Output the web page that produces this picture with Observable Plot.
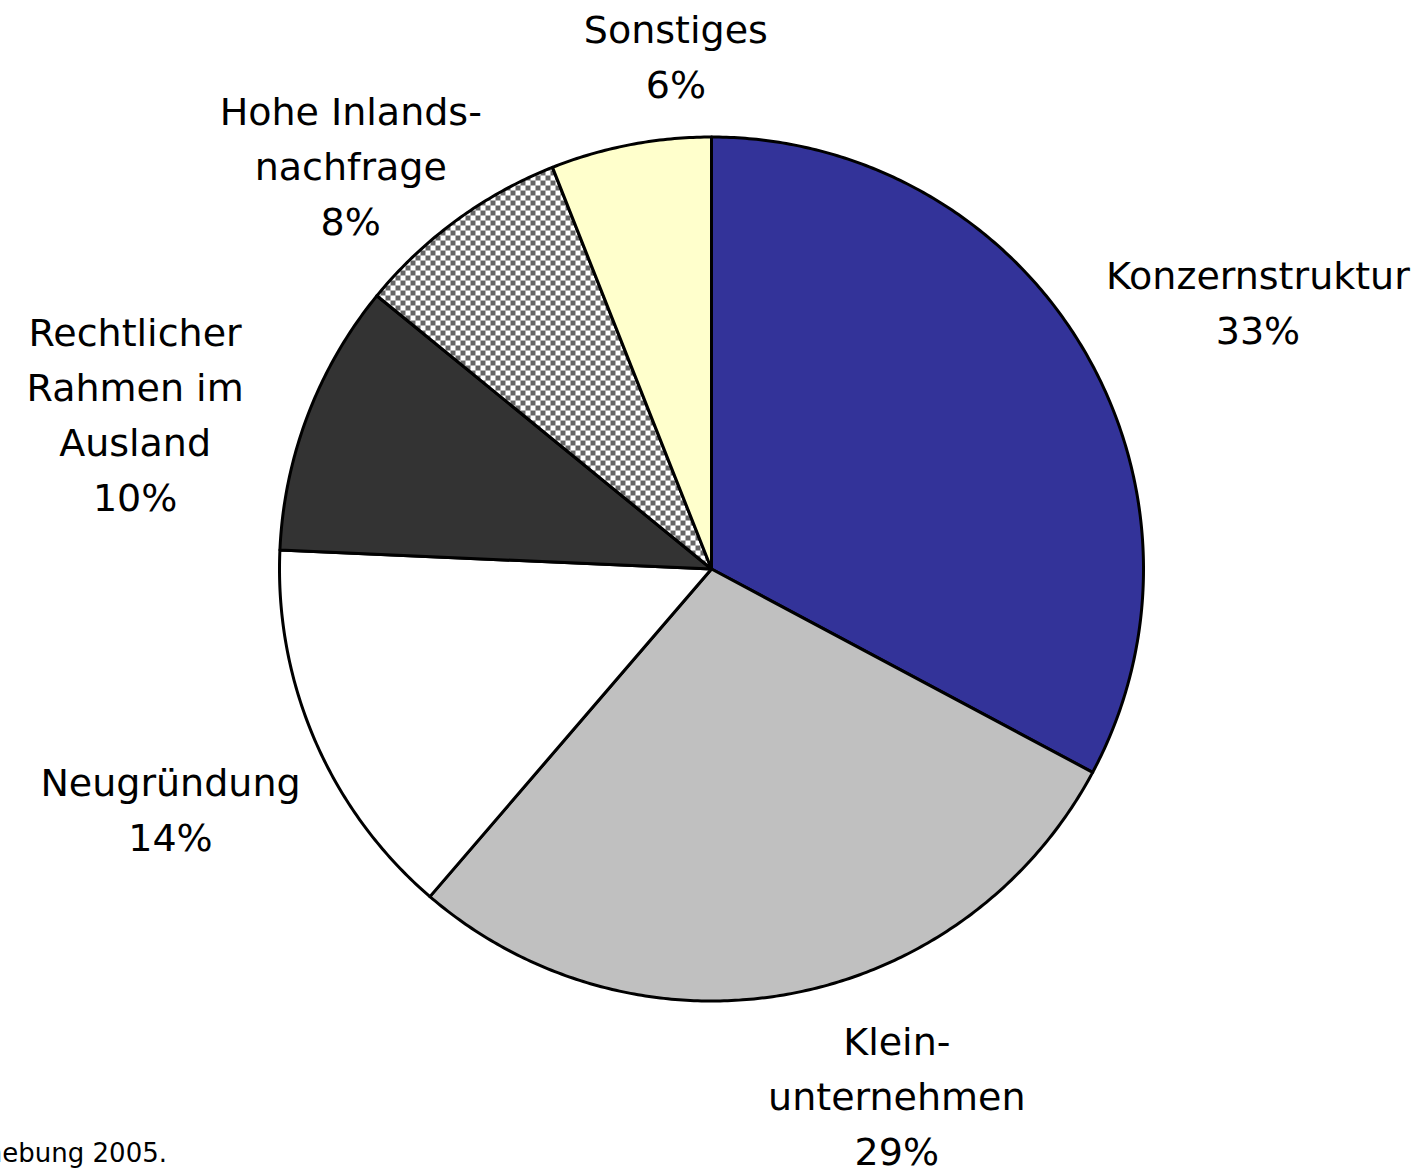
<!DOCTYPE html>
<html>
<head>
<meta charset="utf-8">
<script src="https://cdn.jsdelivr.net/npm/d3@7"></script>
<script src="https://cdn.jsdelivr.net/npm/@observablehq/plot@0.6"></script>
<style>
  html, body { margin: 0; padding: 0; background: #fff; overflow: hidden; }
  #wrap { position: relative; width: 1421px; height: 1171px; }
  #note { position: absolute; right: calc(100% - 167px); top: 1138px; text-align: right;
          font-family: "DejaVu Sans", sans-serif; font-size: 26px; line-height: 30px; color: #000; white-space: nowrap; }
</style>
</head>
<body>
<div id="wrap">
  <div id="chart"></div>
  <div id="note">Quelle: Eigene Erhebung 2005.</div>
</div>
<script>
// ---- data ----
const categories = ["Konzernstruktur", "Klein-\nunternehmen", "Neugründung", "Rechtlicher\nRahmen im\nAusland", "Hohe Inlands-\nnachfrage", "Sonstiges"];
const values = [32.8, 28.5, 14.4, 10.2, 8.1, 6.0];
const percentLabels = ["33%", "29%", "14%", "10%", "8%", "6%"];

// ---- styling / layout ----
const colors = ["#333399", "#C0C0C0", "#FFFFFF", "#333333", "url(#checker)", "#FFFFCC"];
// label anchor: angle (deg, clockwise from top) and distance in radius units
const labelAngle = [64.2, 160.7, 245.8, 284.8, 318, 356];
const labelDist = [1.405, 1.298, 1.373, 1.380, 1.248, 1.183];

const W = 1421, H = 1171, cx = 711, cy = 568.5, R = 432;

const pie = d3.pie().sort(null).value(d => d)(values);
const rows = [];
pie.forEach((p, i) => {
  const cat = categories[i];
  rows.push({cat, x: 0, y: 0});
  const n = Math.max(4, Math.ceil((p.endAngle - p.startAngle) / (Math.PI / 360)));
  for (let k = 0; k <= n; k++) {
    const a = p.startAngle + (p.endAngle - p.startAngle) * k / n;
    rows.push({cat, x: Math.sin(a), y: Math.cos(a)});
  }
  rows.push({cat, x: 0, y: 0});
});

const labels = categories.map((c, i) => {
  const a = labelAngle[i] * Math.PI / 180;
  return {text: c + "\n" + percentLabels[i], x: labelDist[i] * Math.sin(a), y: labelDist[i] * Math.cos(a)};
});

const plot = Plot.plot({
  width: W, height: H,
  marginTop: 0, marginBottom: 0, marginLeft: 0, marginRight: 0,
  x: {domain: [-cx / R, (W - cx) / R], axis: null},
  y: {domain: [-(H - cy) / R, cy / R], axis: null},
  color: {domain: categories, range: colors},
  style: {background: "#fff"},
  marks: [
    Plot.line(rows, {x: "x", y: "y", z: "cat", fill: "cat", stroke: "#000", strokeWidth: 3, strokeLinejoin: "round", curve: "linear"}),
    Plot.text(labels, {x: "x", y: "y", dy: -6, text: "text", fontSize: 38, lineHeight: 1.45, fill: "#000", fontFamily: "DejaVu Sans"})
  ]
});

// checkerboard pattern definition
const svgNS = "http://www.w3.org/2000/svg";
const defs = document.createElementNS(svgNS, "defs");
defs.innerHTML = `<pattern id="checker" patternUnits="userSpaceOnUse" width="10" height="10">
  <rect width="10" height="10" fill="#ffffff"/>
  <rect width="5" height="5" fill="#666666"/>
  <rect x="5" y="5" width="5" height="5" fill="#666666"/>
</pattern>`;
plot.insertBefore(defs, plot.firstChild);

document.getElementById("chart").appendChild(plot);
</script>
</body>
</html>
